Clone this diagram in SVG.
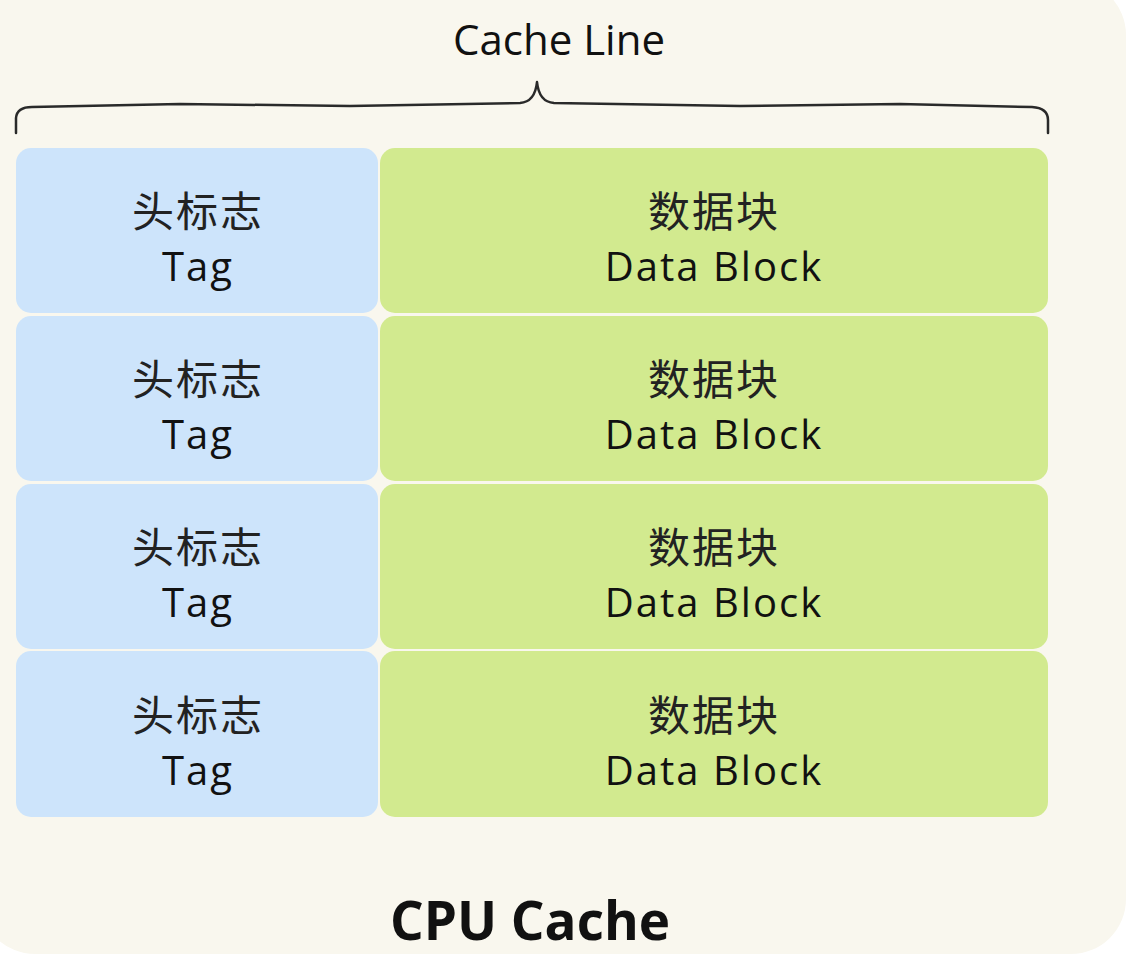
<svg xmlns="http://www.w3.org/2000/svg" width="1128" height="956" viewBox="0 0 1128 956">
<style>
.tag{fill:#cde4fb}
.data{fill:#d2ea8f}
.cn{font-family:"Noto Sans CJK SC","Noto Sans",sans-serif;font-size:42px;letter-spacing:2px;fill:#222;text-anchor:middle}
.en{font-family:"Open Sans","Noto Sans",sans-serif;font-size:40px;letter-spacing:2px;fill:#111;text-anchor:middle}
.title{font-family:"Open Sans","Noto Sans",sans-serif;font-size:42px;fill:#111;text-anchor:middle}
.big{font-family:"Open Sans","Noto Sans",sans-serif;font-size:53px;font-weight:bold;fill:#111;text-anchor:middle}
.brace{fill:none;stroke:#2a2a2a;stroke-width:2.5;stroke-linecap:round;stroke-linejoin:round}
</style>
<rect width="1128" height="956" fill="#ffffff"/>
<rect x="-20" y="-20" width="1146" height="974" rx="55" fill="#f9f7ee"/>
<text class="title" x="559" y="55">Cache Line</text>
<g id="connectors">
<path class="brace" d="M16,133 L16,118 Q17,107 32,107 L180,104 L350,106 L520,103 Q535,102 537,82 Q539,102 554,103 L740,106 L900,104 L1032,107 Q1048,108 1048,120 L1048,133"/>
</g>
<g id="tag1"><rect class="tag" x="16" y="148" width="362" height="165" rx="15"/><text class="cn" x="198" y="227">头标志</text><text class="en" x="198" y="281">Tag</text></g>
<g id="data1"><rect class="data" x="380" y="148" width="668" height="165" rx="15"/><text class="cn" x="714" y="227">数据块</text><text class="en" x="714" y="281">Data Block</text></g>
<g id="tag2"><rect class="tag" x="16" y="316" width="362" height="165" rx="15"/><text class="cn" x="198" y="395">头标志</text><text class="en" x="198" y="449">Tag</text></g>
<g id="data2"><rect class="data" x="380" y="316" width="668" height="165" rx="15"/><text class="cn" x="714" y="395">数据块</text><text class="en" x="714" y="449">Data Block</text></g>
<g id="tag3"><rect class="tag" x="16" y="484" width="362" height="165" rx="15"/><text class="cn" x="198" y="563">头标志</text><text class="en" x="198" y="617">Tag</text></g>
<g id="data3"><rect class="data" x="380" y="484" width="668" height="165" rx="15"/><text class="cn" x="714" y="563">数据块</text><text class="en" x="714" y="617">Data Block</text></g>
<g id="tag4"><rect class="tag" x="16" y="651" width="362" height="166" rx="15"/><text class="cn" x="198" y="731">头标志</text><text class="en" x="198" y="785">Tag</text></g>
<g id="data4"><rect class="data" x="380" y="651" width="668" height="166" rx="15"/><text class="cn" x="714" y="731">数据块</text><text class="en" x="714" y="785">Data Block</text></g>
<text class="big" x="530" y="940">CPU Cache</text>
</svg>
